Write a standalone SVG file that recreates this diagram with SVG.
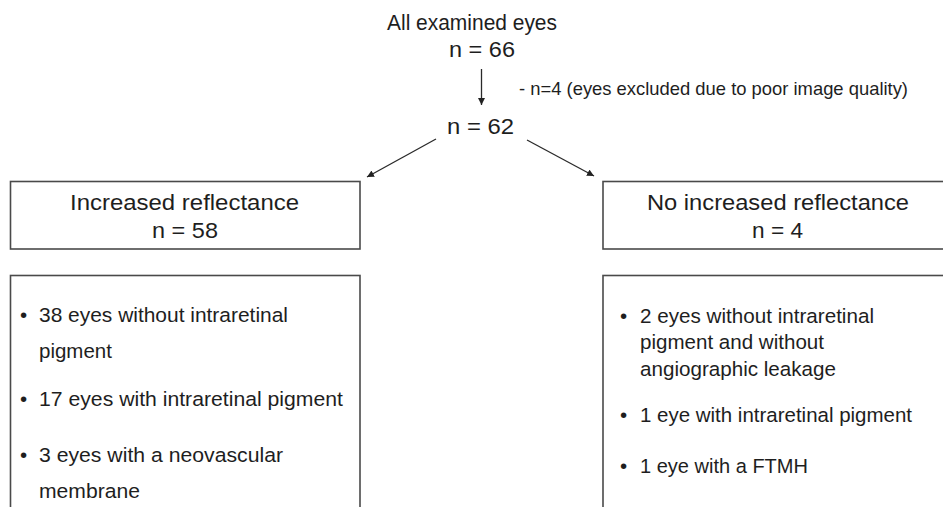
<svg xmlns="http://www.w3.org/2000/svg" width="943" height="507" viewBox="0 0 943 507">
  <defs>
    <marker id="ah" viewBox="0 0 10 10" refX="10" refY="5" markerWidth="7" markerHeight="7" markerUnits="userSpaceOnUse" orient="auto">
      <path d="M0,0 L10,5 L0,10 Z" fill="#222"/>
    </marker>
    <style>
      text { font-family: "Liberation Sans", Arial, sans-serif; fill: #1e1e1e; }
      .t { font-size: 21.5px; }
      .b { font-size: 20.5px; }
      .s { font-size: 18.5px; }
      .box { fill: #fff; stroke: #4a4a4a; stroke-width: 1.6; }
      .conn line { stroke: #2a2a2a; stroke-width: 1.3; marker-end: url(#ah); }
    </style>
  </defs>
  <rect width="943" height="507" fill="#fff"/>

  <g id="all-eyes">
    <text class="t" x="387" y="30" textLength="170" lengthAdjust="spacingAndGlyphs">All examined eyes</text>
    <text class="t" x="449" y="57" textLength="66" lengthAdjust="spacingAndGlyphs">n = 66</text>
  </g>

  <g id="excluded">
    <text class="s" x="519" y="95" textLength="389" lengthAdjust="spacingAndGlyphs">- n=4 (eyes excluded due to poor image quality)</text>
  </g>

  <g id="n62">
    <text class="t" x="447" y="134" textLength="67" lengthAdjust="spacingAndGlyphs">n = 62</text>
  </g>

  <g id="increased">
    <rect class="box" x="10.5" y="181.5" width="349.5" height="67.5"/>
    <text class="t" x="70" y="210" textLength="229" lengthAdjust="spacingAndGlyphs">Increased reflectance</text>
    <text class="t" x="152" y="238" textLength="66" lengthAdjust="spacingAndGlyphs">n = 58</text>
  </g>

  <g id="no-increased">
    <rect class="box" x="603" y="181.5" width="350" height="67.5"/>
    <text class="t" x="647" y="210" textLength="262" lengthAdjust="spacingAndGlyphs">No increased reflectance</text>
    <text class="t" x="752" y="238" textLength="51" lengthAdjust="spacingAndGlyphs">n = 4</text>
  </g>

  <g id="increased-details">
    <rect class="box" x="10.5" y="275.5" width="349.5" height="250"/>
    <text class="b" x="20" y="322">•</text>
    <text class="b" x="39" y="322" textLength="249" lengthAdjust="spacingAndGlyphs">38 eyes without intraretinal</text>
    <text class="b" x="39" y="358">pigment</text>
    <text class="b" x="20" y="406">•</text>
    <text class="b" x="39" y="406" textLength="304" lengthAdjust="spacingAndGlyphs">17 eyes with intraretinal pigment</text>
    <text class="b" x="20" y="462">•</text>
    <text class="b" x="39" y="462" textLength="244" lengthAdjust="spacingAndGlyphs">3 eyes with a neovascular</text>
    <text class="b" x="39" y="498" textLength="101" lengthAdjust="spacingAndGlyphs">membrane</text>
  </g>

  <g id="no-increased-details">
    <rect class="box" x="603" y="275.5" width="350" height="250"/>
    <text class="b" x="620" y="323">•</text>
    <text class="b" x="640" y="323" textLength="234" lengthAdjust="spacingAndGlyphs">2 eyes without  intraretinal</text>
    <text class="b" x="640" y="349" textLength="184" lengthAdjust="spacingAndGlyphs">pigment and without</text>
    <text class="b" x="640" y="376" textLength="196" lengthAdjust="spacingAndGlyphs">angiographic  leakage</text>
    <text class="b" x="620" y="422">•</text>
    <text class="b" x="640" y="422" textLength="272" lengthAdjust="spacingAndGlyphs">1 eye with intraretinal pigment</text>
    <text class="b" x="620" y="473">•</text>
    <text class="b" x="640" y="473" textLength="168" lengthAdjust="spacingAndGlyphs">1 eye with a FTMH</text>
  </g>

  <g id="connectors" class="conn">
    <line x1="481.5" y1="69" x2="481.5" y2="105"/>
    <line x1="436" y1="139" x2="367" y2="177"/>
    <line x1="527" y1="140" x2="594" y2="176"/>
  </g>
</svg>
